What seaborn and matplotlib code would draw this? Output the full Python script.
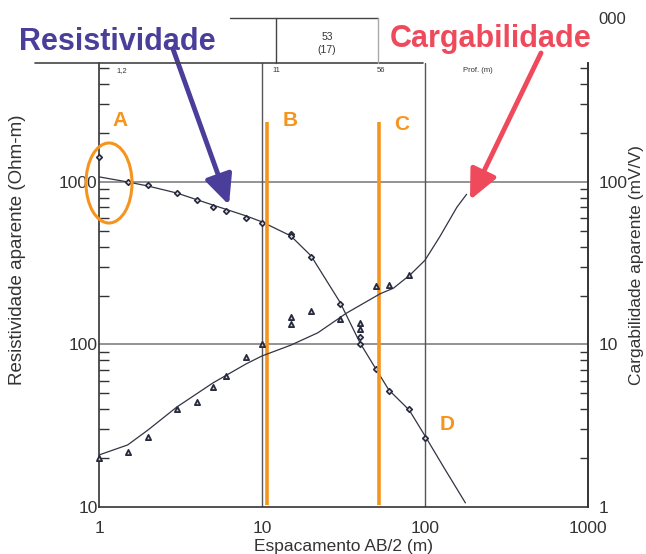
import numpy as np
import pandas as pd
import matplotlib
matplotlib.use("Agg")
import matplotlib.pyplot as plt
import seaborn as sns
from matplotlib.patches import Ellipse
from matplotlib.lines import Line2D
from matplotlib.ticker import LogLocator, NullFormatter, FixedLocator, FixedFormatter

# ---------------- data ----------------
res_x = [1, 1.5, 2, 3, 4, 5, 6, 8, 10, 15, 15, 20, 30, 40, 40, 50, 60, 80, 100]
res_y = [1426, 1000, 955, 855, 774, 702, 664, 600, 560, 478, 466, 345, 177, 111, 100, 70.7, 51.8, 40, 26.6]
res_fit_x = [1, 1.5, 2, 3, 5, 8, 10, 15, 20, 30, 40, 50, 60, 80, 100, 131, 177]
res_fit_y = [1075, 1000, 944, 855, 721, 618, 568, 466, 351, 183, 102, 70.6, 52.5, 39.5, 27.4, 17.4, 10.6]

charg_x = [1, 1.5, 2, 3, 4, 5, 6, 8, 10, 15, 15, 20, 30, 40, 40, 50, 60, 80]
charg_y = [2.0, 2.18, 2.70, 4.01, 4.43, 5.47, 6.40, 8.38, 10.0, 14.8, 13.4, 16.1, 14.4, 13.6, 12.5, 22.9, 23.2, 26.8]
charg_fit_x = [1, 1.5, 2, 3, 5, 8, 10, 15, 22, 33, 53, 64, 81, 100, 123, 157, 180]
charg_fit_y = [2.09, 2.41, 2.98, 4.12, 5.8, 7.6, 8.5, 9.9, 11.8, 15.6, 20.5, 22.2, 26.8, 33, 45.9, 70, 84]

boundaries = [10.7, 52.2]          # orange lines B and C
boundary_span = [10.3, 2340]
x_ticks = [1, 10, 100, 1000]
x_ticklabels = ["1", "10", "100", "1000"]
y_ticks = [10, 100, 1000]
y_ticklabels = ["10", "100", "1000"]
y2_ticks = [1, 10, 100]
y2_ticklabels = ["1", "10", "100"]
layer_labels = ["1,2", "11", "56", "Prof. (m)"]

# ---------------- style ----------------
sns.set_style("white")
plt.rcParams["font.family"] = ["Liberation Sans", "DejaVu Sans"]

W, H = 646, 554
fig = plt.figure(figsize=(W / 100, H / 100), dpi=100)
fig.patch.set_facecolor("white")

def fx(px):
    return px / W

def fy(py):
    return 1 - py / H

ax = fig.add_axes([fx(99), fy(507), fx(588) - fx(99), fy(63) - fy(507)])
ax.set_xscale("log")
ax.set_yscale("log")
ax.set_xlim(1, 1000)
ax.set_ylim(10, 10 ** 3.732)

dark = "#262a3c"
line_c = "#333344"
txt_c = "#333333"

res_df = pd.DataFrame({"x": res_x, "y": res_y})
res_fit_df = pd.DataFrame({"x": res_fit_x, "y": res_fit_y})
sns.lineplot(data=res_fit_df, x="x", y="y", ax=ax, color=line_c, lw=0.9, sort=False)
sns.scatterplot(data=res_df, x="x", y="y", ax=ax, marker="D", s=8,
                facecolor="#d8d8e0", edgecolor=dark, linewidth=1.2, zorder=5, clip_on=False)

ax.vlines(boundaries, boundary_span[0], boundary_span[1], color="#f7941d", lw=2.6, zorder=6)

ax.spines["top"].set_visible(False)
for s in ["left", "bottom", "right"]:
    ax.spines[s].set_color(txt_c)
    ax.spines[s].set_linewidth(1.2)

ax.xaxis.set_major_locator(FixedLocator(x_ticks))
ax.xaxis.set_major_formatter(FixedFormatter(x_ticklabels))
ax.yaxis.set_major_locator(FixedLocator(y_ticks))
ax.yaxis.set_major_formatter(FixedFormatter(y_ticklabels))
ax.xaxis.set_minor_locator(LogLocator(base=10, subs=np.arange(2, 10)))
ax.yaxis.set_minor_locator(LogLocator(base=10, subs=np.arange(2, 10)))
ax.xaxis.set_minor_formatter(NullFormatter())
ax.yaxis.set_minor_formatter(NullFormatter())
ax.tick_params(which="major", length=0, labelsize=12.5, labelcolor=txt_c)
ax.tick_params(axis="x", which="major", pad=10)
ax.tick_params(axis="y", which="major", pad=1)
ax.tick_params(which="minor", direction="in", length=7, width=1.0, color=txt_c)
ax.grid(False)
for yv in [100, 1000]:
    ax.axhline(yv, color="#8a8a8a", lw=1.3, zorder=1)
for xv in [10, 100]:
    ax.axvline(xv, color="#555555", lw=1.0, zorder=1)

ax.set_xlabel("Espacamento AB/2 (m)", fontsize=12.5, color=txt_c, labelpad=2)
ax.set_ylabel("")

# right axis
ax2 = ax.twinx()
ax2.set_yscale("log")
ax2.set_ylim(1, 10 ** 2.732)
charg_df = pd.DataFrame({"x": charg_x, "y": charg_y})
charg_fit_df = pd.DataFrame({"x": charg_fit_x, "y": charg_fit_y})
sns.lineplot(data=charg_fit_df, x="x", y="y", ax=ax2, color=line_c, lw=0.9, sort=False)
sns.scatterplot(data=charg_df, x="x", y="y", ax=ax2, marker="^", s=14,
                facecolor="#d8d8e0", edgecolor=dark, linewidth=1.3, zorder=5, clip_on=False)
ax2.set_xlim(1, 1000)
for s in ["top", "left", "bottom"]:
    ax2.spines[s].set_visible(False)
ax2.spines["right"].set_color(txt_c)
ax2.spines["right"].set_linewidth(1.2)
ax2.yaxis.set_major_locator(FixedLocator(y2_ticks))
ax2.yaxis.set_major_formatter(FixedFormatter(y2_ticklabels))
ax2.yaxis.set_minor_locator(LogLocator(base=10, subs=np.arange(2, 10)))
ax2.yaxis.set_minor_formatter(NullFormatter())
ax2.tick_params(which="major", length=0, labelsize=12.5, labelcolor=txt_c, pad=7.5)
ax2.tick_params(which="minor", direction="in", length=6, width=1.0, color=txt_c)
ax2.set_ylabel("")
ax2.grid(False)

# axis titles placed as in reference
fig.text(fx(18), fy(250), "Resistividade aparente (Ohm-m)", rotation=90, ha="center", va="center",
         fontsize=13.5, color=txt_c)
fig.text(fx(637), fy(265), "Cargabilidade aparente (mV/V)", rotation=90, ha="center", va="center",
         fontsize=12.5, color=txt_c)

# ---------------- header table ----------------
tab_c = "#444444"
fig.add_artist(Line2D([fx(35), fx(423)], [fy(63), fy(63)], transform=fig.transFigure, color=tab_c, lw=1.2))
fig.add_artist(Line2D([fx(230), fx(378)], [fy(18), fy(18)], transform=fig.transFigure, color=tab_c, lw=1.0))
fig.add_artist(Line2D([fx(276), fx(276)], [fy(18), fy(63)], transform=fig.transFigure, color=tab_c, lw=1.0))
fig.add_artist(Line2D([fx(378), fx(378)], [fy(18), fy(63)], transform=fig.transFigure, color="#aaaaaa", lw=1.0))
fig.text(fx(327), fy(37), "53", ha="center", va="center", fontsize=7.5, color=txt_c)
fig.text(fx(327), fy(50), "(17)", ha="center", va="center", fontsize=7.5, color=txt_c)
for lab, px in zip(layer_labels, [122, 276, 381, 478]):
    fig.text(fx(px), fy(71), lab, ha="center", va="center", fontsize=5.5, color=txt_c)
fig.text(fx(612), fy(20), "000", ha="center", va="center", fontsize=12, color=txt_c)

# ---------------- annotations ----------------
purple = "#4b3e9b"
red = "#ef4a5c"
orange = "#f7941d"
fig.text(fx(117), fy(50), "Resistividade", ha="center", va="baseline", fontsize=22,
         fontweight="bold", color=purple)
fig.text(fx(491), fy(47), "Cargabilidade", ha="center", va="baseline", fontsize=22,
         fontweight="bold", color=red)
ax.annotate("", xy=(fx(229), fy(205)), xytext=(fx(173), fy(49)), xycoords="figure fraction",
            textcoords="figure fraction",
            arrowprops=dict(arrowstyle="-|>,head_length=0.9,head_width=0.42", mutation_scale=20,
                            lw=3.5, color=purple, shrinkA=0, shrinkB=0), zorder=10)
ax.annotate("", xy=(fx(470), fy(200)), xytext=(fx(541), fy(53)), xycoords="figure fraction",
            textcoords="figure fraction",
            arrowprops=dict(arrowstyle="-|>,head_length=0.9,head_width=0.42", mutation_scale=20,
                            lw=3.5, color=red, shrinkA=0, shrinkB=0), zorder=10)

for lab, (px, py) in zip(["A", "B", "C", "D"], [(120, 121), (290, 121), (402, 124), (447, 424)]):
    fig.text(fx(px), fy(py), lab, ha="center", va="center", fontsize=15, fontweight="bold", color=orange)

ell = Ellipse((fx(109), fy(183)), fx(46), 80 / H, transform=fig.transFigure,
              fill=False, edgecolor=orange, lw=2.2, zorder=10)
fig.add_artist(ell)

fig.savefig("out.png", dpi=100, facecolor="white")
